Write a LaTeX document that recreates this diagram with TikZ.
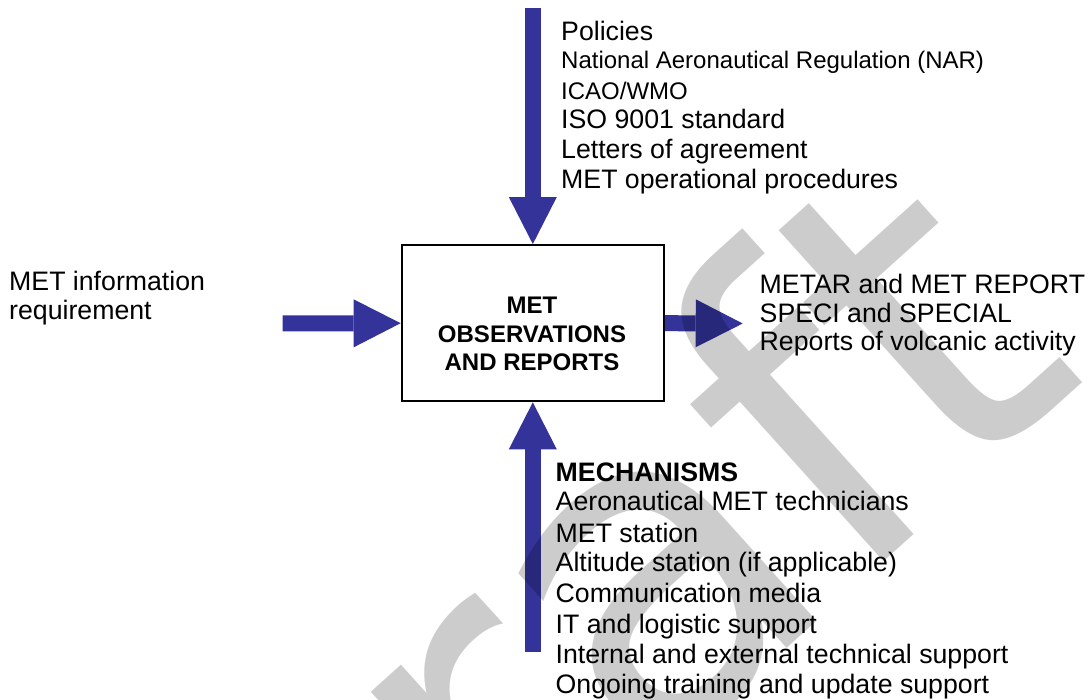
\documentclass[tikz,border=0pt]{standalone}
\usepackage{fontspec}
\setmainfont{Liberation Sans}
\newfontfamily\wmfont{DejaVu Sans}
\usetikzlibrary{arrows.meta}
\definecolor{arrowblue}{HTML}{333399}
\begin{document}
\begin{tikzpicture}[x=1pt,y=-1pt,
  big/.style={font=\fontsize{26.7}{30}\selectfont},
  small/.style={font=\fontsize{24}{28}\selectfont},
  bigbold/.style={font=\bfseries\fontsize{26.7}{30}\selectfont},
  textline/.style={anchor=base west,inner sep=0pt},
  flow/.style={draw=arrowblue,line width=16pt,-{Triangle[width=48pt,length=47pt,line width=0pt]}},
  watermark/.style={anchor=base east,rotate=42,inner sep=0pt,text=black,text opacity=0.2,font=\wmfont\fontsize{450}{450}\selectfont}
]
\useasboundingbox[fill=white] (0,0) rectangle (1092,700);
% process box
\node[draw,line width=2pt,fill=white,minimum width=262.3pt,minimum height=156.3pt,inner sep=0pt] (box) at (532.8,323.2) {};
% connectors
\coordinate (topin) at (532.8,8);
\coordinate (botin) at (532.8,652.3);
\coordinate (leftin) at (282.7,323.5);
\coordinate (rightout) at (742.7,323.5);
\draw[flow] (topin) -- (box.north);
\draw[flow] (botin) -- (box.south);
\draw[flow] (leftin) -- (box.west);
\draw[flow] (box.east) -- (rightout);
% watermark
\node[watermark] (draft) at (1091,375.5) {Draft};
% box label
\node[inner sep=0pt,align=center,font=\bfseries\fontsize{24}{28.7}\selectfont] (boxlabel) at (532,334) {MET\\OBSERVATIONS\\AND REPORTS};
% controls
\node[textline,big]   (c1) at (561,40.7)  {Policies};
\node[textline,small] (c2) at (561,69)    {National Aeronautical Regulation (NAR)};
\node[textline,small] (c3) at (561,99.3)  {ICAO/WMO};
\node[textline,big]   (c4) at (561,128.3) {ISO 9001 standard};
\node[textline,big]   (c5) at (561,158.3) {Letters of agreement};
\node[textline,big]   (c6) at (561,188.3) {MET operational procedures};
% input
\node[textline,big] (i1) at (9,290.7) {MET information};
\node[textline,big] (i2) at (9,320)   {requirement};
% outputs
\node[textline,big] (o1) at (759.5,293.3) {METAR and MET REPORT};
\node[textline,big] (o2) at (759.5,322.8) {SPECI and SPECIAL};
\node[textline,big] (o3) at (759.5,351)   {Reports of volcanic activity};
% mechanisms
\node[textline,bigbold] (m0) at (555.5,481.7) {MECHANISMS};
\node[textline,big] (m1) at (555.5,510.7) {Aeronautical MET technicians};
\node[textline,big] (m2) at (555.5,542)   {MET station};
\node[textline,big] (m3) at (555.5,571.7) {Altitude station (if applicable)};
\node[textline,big] (m4) at (555.5,602.7) {Communication media};
\node[textline,big] (m5) at (555.5,633.3) {IT and logistic support};
\node[textline,big] (m6) at (555.5,663.3) {Internal and external technical support};
\node[textline,big] (m7) at (555.5,693.3) {Ongoing training and update support};
\end{tikzpicture}
\end{document}
